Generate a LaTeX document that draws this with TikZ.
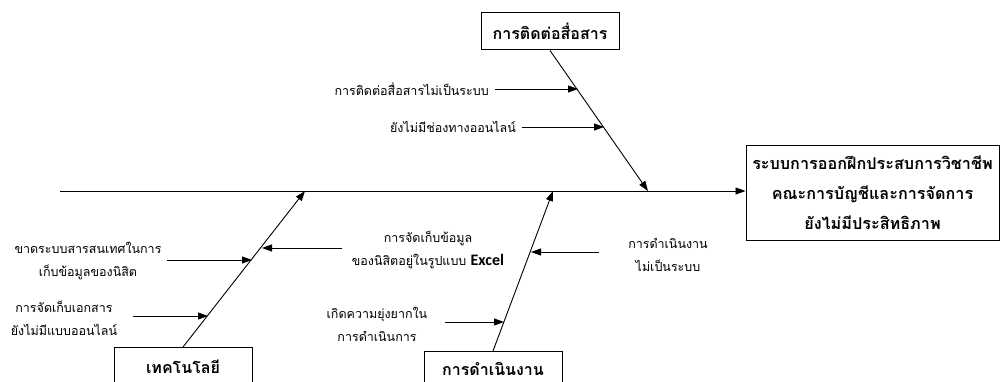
\documentclass[tikz,border=0pt]{standalone}
\usepackage{fontspec}
\newfontfamily\thai[Script=Thai]{Loma}
\newfontfamily\exfont{Carlito}
\usetikzlibrary{arrows.meta}
\begin{document}
\begin{tikzpicture}[x=1pt,y=-1pt,
  ln/.style={line width=0.9pt},
  arr/.style={ln,-{Triangle[length=10pt,width=7pt]}},
  lbl/.style={font=\thai\fontsize{12.5}{23}\selectfont,align=center,inner sep=0pt},
  catbox/.style={draw,line width=1pt,font=\thai\bfseries\fontsize{16}{18}\selectfont,minimum width=138pt,minimum height=37pt,inner sep=2pt},
  effbox/.style={draw,line width=1pt,font=\thai\bfseries\fontsize{16.2}{30}\selectfont,align=center,minimum width=253pt,minimum height=94pt,inner sep=2pt}
]
\useasboundingbox (0,0) rectangle (1001,382);
\clip (0,0) rectangle (1001,382);
% effect box
\node[effbox] (eff) at (872.5,193) {ระบบการออกฝึกประสบการวิชาชีพ\\คณะการบัญชีและการจัดการ\\ยังไม่มีประสิทธิภาพ};
% spine
\coordinate (tail) at (60,191);
\draw[arr] (tail) -- (eff.west |- tail);
% category boxes
\node[catbox] (comm) at (550,31.5) {การติดต่อสื่อสาร};
\node[catbox,minimum height=38pt,anchor=north] (tech) at (183,347) {เทคโนโลยี};
\node[catbox,minimum height=35pt,anchor=north] (ops) at (493,351) {การดำเนินงาน};
% bone ends on spine
\coordinate (cS) at (648,191);
\coordinate (tS) at (305,191);
\coordinate (oS) at (553,191);
\draw[arr] (comm.south) -- (cS);
\draw[arr] (tech.north) -- (tS);
\draw[arr] (ops.north) -- (oS);
% communication causes
\node[lbl,anchor=east] (c1) at (489,89) {การติดต่อสื่อสารไม่เป็นระบบ};
\node[lbl,anchor=east] (c2) at (516,127) {ยังไม่มีช่องทางออนไลน์};
\coordinate (c1s) at (495,89);  \coordinate (c1e) at (578,89);
\coordinate (c2s) at (522,127); \coordinate (c2e) at (604,127);
\draw[arr] (c1s) -- (c1e);
\draw[arr] (c2s) -- (c2e);
% technology causes
\node[lbl] (t1) at (88,261) {ขาดระบบสารสนเทศในการ\\เก็บข้อมูลของนิสิต};
\node[lbl] (t2) at (64,318) {การจัดเก็บเอกสาร\\ยังไม่มีแบบออนไลน์};
\node[lbl] (t3) at (428,250) {การจัดเก็บข้อมูล\\ของนิสิตอยู่ในรูปแบบ {\exfont\bfseries\fontsize{16}{23}\selectfont Excel}};
\coordinate (t1s) at (167,260); \coordinate (t1e) at (252,260);
\coordinate (t2s) at (133,316); \coordinate (t2e) at (208,316);
\coordinate (t3s) at (342,248); \coordinate (t3e) at (262,248);
\draw[arr] (t1s) -- (t1e);
\draw[arr] (t2s) -- (t2e);
\draw[arr] (t3s) -- (t3e);
% operations causes
\node[lbl] (o1) at (668,255) {การดำเนินงาน\\ไม่เป็นระบบ};
\node[lbl] (o2) at (377,324) {เกิดความยุ่งยากใน\\การดำเนินการ};
\coordinate (o1s) at (599,252); \coordinate (o1e) at (531,252);
\coordinate (o2s) at (445,322); \coordinate (o2e) at (504,322);
\draw[arr] (o1s) -- (o1e);
\draw[arr] (o2s) -- (o2e);
\end{tikzpicture}
\end{document}
